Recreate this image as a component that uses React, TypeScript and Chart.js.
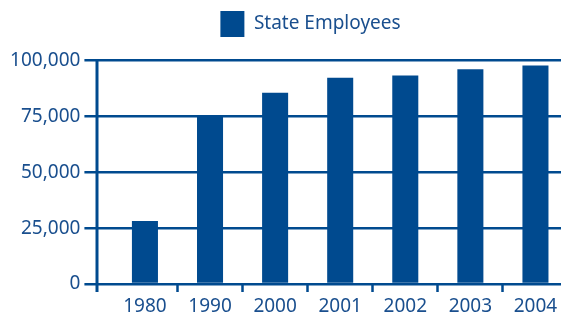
import React, { useEffect, useRef } from "react";
import { Chart, registerables } from "chart.js";

Chart.register(...registerables);

const categories: string[] = ["1980", "1990", "2000", "2001", "2002", "2003", "2004"];
const stateEmployees: number[] = [28200, 74800, 85600, 92300, 93300, 96100, 97800];
const seriesLabel = "State Employees";
const yMin = 0;
const yMax = 100000;
const yStep = 25000;

const BLUE = "#004a8f";
const TEXT = "#1a4f8e";
const FONT = "'Noto Sans', 'DejaVu Sans', sans-serif";

const axisLinePlugin = {
  id: "leftAxisLine",
  beforeDatasetsDraw(chart: any) {
    const { ctx, chartArea } = chart;
    const x = chartArea.left - 15.4;
    ctx.save();
    ctx.strokeStyle = BLUE;
    ctx.lineWidth = 3;
    ctx.beginPath();
    ctx.moveTo(x, chartArea.top - 1);
    ctx.lineTo(x, chartArea.bottom + 8);
    ctx.stroke();
    ctx.restore();
  },
};

export default function App() {
  const ref = useRef<HTMLCanvasElement | null>(null);

  useEffect(() => {
    if (!ref.current) return;
    const chart = new Chart(ref.current, {
      type: "bar",
      data: {
        labels: categories,
        datasets: [
          {
            label: seriesLabel,
            data: stateEmployees,
            backgroundColor: BLUE,
            borderWidth: 0,
            barPercentage: 0.4,
            categoryPercentage: 1,
          },
        ],
      },
      options: {
        responsive: false,
        animation: false,
        devicePixelRatio: 1,
        layout: { padding: 0 },
        plugins: {
          tooltip: { enabled: false },
          legend: {
            display: true,
            position: "top",
            align: "center",
            labels: {
              boxWidth: 24,
              boxHeight: 26,
              padding: 11,
              color: TEXT,
              font: { family: FONT, size: 19 },
            },
          },
          subtitle: {
            display: true,
            text: "",
            weight: 500,
            padding: 0,
            font: { size: 10, lineHeight: 1.35 },
          } as any,
        },
        scales: {
          x: {
            type: "category",
            offset: true,
            afterFit(scale: any) {
              scale.height = 28;
            },
            border: { display: false },
            grid: {
              offset: true,
              drawOnChartArea: false,
              drawTicks: true,
              tickLength: 8,
              tickWidth: 2.5,
              tickColor: (c: any) => (c.index === 0 ? "rgba(0,0,0,0)" : BLUE),
              color: BLUE,
            },
            ticks: {
              color: TEXT,
              padding: 3,
              font: { family: FONT, size: 19 },
              maxRotation: 0,
              autoSkip: false,
            },
          },
          y: {
            type: "linear",
            position: "left",
            min: yMin,
            max: yMax,
            afterFit(scale: any) {
              scale.width = 112.4;
            },
            border: { display: false },
            grid: {
              color: BLUE,
              lineWidth: 2.5,
              drawTicks: true,
              tickLength: 28,
            },
            ticks: {
              stepSize: yStep,
              color: TEXT,
              padding: 4,
              font: { family: FONT, size: 19 },
            },
          },
          yRight: {
            type: "linear",
            position: "right",
            display: true,
            min: 0,
            max: 1,
            afterFit(scale: any) {
              scale.width = 53;
            },
            border: { display: false },
            grid: { display: false },
            ticks: { display: false },
          },
        },
      },
      plugins: [axisLinePlugin],
    });
    return () => chart.destroy();
  }, []);

  return (
    <div
      style={{
        position: "fixed",
        left: 0,
        top: 0,
        width: 561,
        height: 312,
        overflow: "hidden",
        background: "#ffffff",
      }}
    >
      <canvas ref={ref} width={621} height={312} style={{ display: "block", width: 621, height: 312 }} />
    </div>
  );
}
